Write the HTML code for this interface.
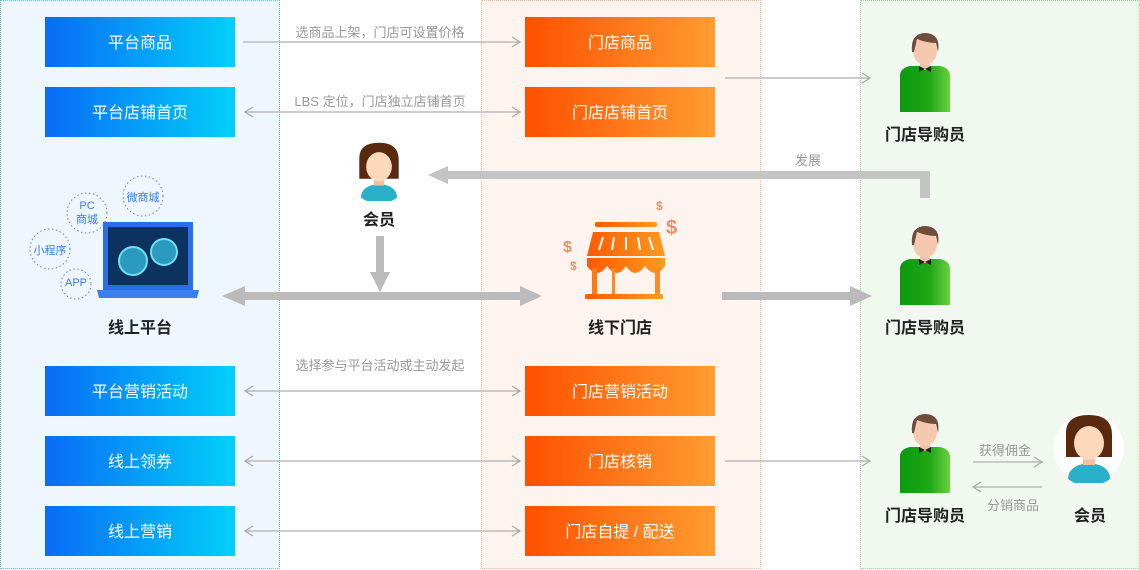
<!DOCTYPE html>
<html><head><meta charset="utf-8"><style>
body{margin:0;width:1140px;height:570px;position:relative;overflow:hidden;background:#fff;font-family:"Liberation Sans","Noto Sans CJK SC",sans-serif}
.p{position:absolute;top:0;height:569px;box-sizing:border-box}
.b{position:absolute;width:190px;height:50px;color:#fff;font-size:16px;line-height:53px;text-align:center}
.bl{left:45px;background:linear-gradient(90deg,#0a6cf7,#00d0f8)}
.or{left:525px;background:linear-gradient(90deg,#ff5000,#ff9d30)}
.t{position:absolute;font-size:16px;font-weight:bold;color:#222;text-align:center;width:140px}
.g{position:absolute;font-size:13px;color:#999;text-align:center}
</style></head><body>
<div class="p" style="left:0;width:280px;background:#eef7fd;border:1px dotted #6ab8e8"></div>
<div class="p" style="left:481px;width:280px;background:#fdf3ef;border:1px dotted #f4b8a0"></div>
<div class="p" style="left:860px;width:280px;background:#f1f8f0;border:1px dotted #8d8"></div>

<div class="b bl" style="top:17px">平台商品</div>
<div class="b bl" style="top:87px">平台店铺首页</div>
<div class="b bl" style="top:366px">平台营销活动</div>
<div class="b bl" style="top:436px">线上领券</div>
<div class="b bl" style="top:506px">线上营销</div>
<div class="b or" style="top:17px">门店商品</div>
<div class="b or" style="top:87px">门店店铺首页</div>
<div class="b or" style="top:366px">门店营销活动</div>
<div class="b or" style="top:436px">门店核销</div>
<div class="b or" style="top:506px">门店自提 / 配送</div>

<svg width="1140" height="570" style="position:absolute;left:0;top:0">
<defs>
<marker id="a" markerWidth="10" markerHeight="12" refX="9" refY="6" orient="auto-start-reverse" markerUnits="userSpaceOnUse"><path d="M1,1 L9,6 L1,11" fill="none" stroke="#aaa" stroke-width="1.3"/></marker>
<linearGradient id="sh" x1="0" x2="1"><stop offset="0" stop-color="#0a9a10"/><stop offset="0.6" stop-color="#20a818"/><stop offset="1" stop-color="#6ad040"/></linearGradient>
<linearGradient id="st" x1="0" x2="1"><stop offset="0" stop-color="#ff5a00"/><stop offset="1" stop-color="#ff9a20"/></linearGradient>
<symbol id="man" viewBox="0 0 60 80">
<path d="M5,44 Q5,36 15,34 L45,34 Q55,36 55,44 L55,80 L5,80Z" fill="url(#sh)"/>
<rect x="25" y="28" width="10" height="10" fill="#f0c0a8"/>
<ellipse cx="30" cy="19" rx="12" ry="14" fill="#f5c8b0"/>
<path d="M17,20 Q15,1 31,1 Q46,2 43,20 L41,11 Q32,11 22,7 L19,20Z" fill="#6e4e3a"/>
<path d="M24,34 L30,37 L36,34 L36,40 L30,37 L24,40Z" fill="#222"/>
</symbol>
<symbol id="wom" viewBox="0 0 70 70">
<circle cx="35" cy="35" r="35" fill="#fff"/>
<path d="M12,20 Q12,2 35,2 Q58,2 58,22 L58,44 L12,44Z" fill="#5a2a10"/>
<path d="M14,66 Q14,52 35,50 Q56,52 56,66 A35,35 0 0 1 14,66Z" fill="#2ab0c8"/>
<rect x="29" y="40" width="12" height="12" fill="#f0c0a0"/>
<ellipse cx="35" cy="30" rx="15" ry="17" fill="#fcd9bc"/>
<path d="M20,24 Q26,10 44,12 Q50,16 52,26 Q50,14 35,10 Q22,12 20,24Z" fill="#5a2a10"/>
</symbol>
</defs>
<g stroke="#bbb" stroke-width="1.5" fill="none">
<line x1="243" y1="42" x2="520" y2="42" marker-end="url(#a)"/>
<line x1="245" y1="112" x2="520" y2="112" marker-end="url(#a)" marker-start="url(#a)"/>
<line x1="725" y1="78" x2="870" y2="78" marker-end="url(#a)"/>
<line x1="245" y1="391" x2="520" y2="391" marker-end="url(#a)" marker-start="url(#a)"/>
<line x1="245" y1="461" x2="520" y2="461" marker-end="url(#a)" marker-start="url(#a)"/>
<line x1="245" y1="531" x2="520" y2="531" marker-end="url(#a)" marker-start="url(#a)"/>
<line x1="725" y1="461" x2="870" y2="461" marker-end="url(#a)"/>
<line x1="973" y1="462" x2="1042" y2="462" marker-end="url(#a)"/>
<line x1="1042" y1="487" x2="973" y2="487" marker-end="url(#a)"/>
</g>
<path d="M930,198 L930,171 L448,171 L448,166 L428,175 L448,184 L448,179 L920,179 L920,198Z" fill="#c4c4c4"/>
<path d="M376,236 L384,236 L384,272 L390,272 L380,292 L370,272 L376,272Z" fill="#bbb"/>
<path d="M222,296 L245,286 L245,292 L520,292 L520,286 L542,296 L520,306 L520,300 L245,300 L245,306Z" fill="#bbb"/>
<path d="M722,292 L850,292 L850,286 L872,296 L850,306 L850,300 L722,300Z" fill="#bbb"/>
<use href="#man" x="895" y="32" width="60" height="80"/>
<use href="#man" x="895" y="225" width="60" height="80"/>
<use href="#man" x="895" y="413" width="60" height="80"/>
<circle cx="379" cy="171" r="30" fill="#e3e3e3"/>
<use href="#wom" x="349" y="141" width="60" height="60"/>
<use href="#wom" x="1054" y="413" width="70" height="70"/>
<rect x="103" y="222" width="90" height="68" fill="#2a6fe8"/>
<rect x="108" y="227" width="80" height="58" fill="#0d3260"/>
<circle cx="133" cy="261" r="14" fill="#2a9bbf" stroke="#6de0f0" stroke-width="2"/>
<circle cx="164" cy="252" r="13" fill="#2a9bbf" stroke="#6de0f0" stroke-width="2"/>
<path d="M97,290 L199,290 L197,298 L99,298Z" fill="#3a80f0"/>
<g fill="none" stroke="#6a7ad0" stroke-dasharray="1.5,2.5" stroke-width="1">
<circle cx="87" cy="213" r="20"/><circle cx="143" cy="196" r="20"/><circle cx="50" cy="249" r="20"/><circle cx="76" cy="284" r="15"/>
</g>
<rect x="595" y="222" width="62" height="5" rx="2" fill="url(#st)"/>
<path d="M593,232 L659,232 L665,256 L587,256Z" fill="url(#st)"/>
<g stroke="#fff" stroke-width="2"><line x1="603" y1="237" x2="599" y2="250"/><line x1="614" y1="237" x2="612" y2="250"/><line x1="626" y1="237" x2="626" y2="250"/><line x1="638" y1="237" x2="640" y2="250"/><line x1="649" y1="237" x2="653" y2="250"/></g>
<path d="M587,258 L665,258 L665,266 Q655,280 645,266 Q635,280 626,266 Q617,280 607,266 Q597,280 587,266Z" fill="url(#st)"/>
<rect x="592" y="268" width="5" height="28" fill="#ff7a10"/><rect x="655" y="268" width="5" height="28" fill="#ff8a20"/>
<rect x="612" y="268" width="3" height="28" fill="#ff8a20"/>
<rect x="585" y="294" width="78" height="5" rx="2" fill="url(#st)"/>
<g fill="#e8906a" font-size="16" font-weight="bold" font-family="Liberation Sans"><text x="563" y="252">$</text><text x="570" y="270" font-size="12">$</text><text x="666" y="234" font-size="20">$</text><text x="656" y="210" font-size="12">$</text></g>
</svg>
<div class="g" style="left:270px;top:22px;width:220px">选商品上架，门店可设置价格</div>
<div class="g" style="left:270px;top:91px;width:220px">LBS 定位，门店独立店铺首页</div>
<div class="g" style="left:260px;top:355px;width:240px">选择参与平台活动或主动发起</div>
<div class="g" style="left:780px;top:150px;width:56px">发展</div>
<div class="g" style="left:970px;top:440px;width:70px">获得佣金</div>
<div class="g" style="left:978px;top:495px;width:70px">分销商品</div>
<div style="position:absolute;left:67px;top:199px;width:40px;font-size:11px;color:#3a7ae0;text-align:center;line-height:14px">PC<br>商城</div>
<div style="position:absolute;left:120px;top:189px;width:46px;font-size:11px;color:#3a7ae0;text-align:center">微商城</div>
<div style="position:absolute;left:27px;top:242px;width:46px;font-size:11px;color:#3a7ae0;text-align:center">小程序</div>
<div style="position:absolute;left:56px;top:277px;width:40px;font-size:11px;color:#3a7ae0;text-align:center">APP</div>
<div class="t" style="left:309px;top:206px">会员</div>
<div class="t" style="left:70px;top:314px">线上平台</div>
<div class="t" style="left:550px;top:314px">线下门店</div>
<div class="t" style="left:855px;top:121px">门店导购员</div>
<div class="t" style="left:855px;top:314px">门店导购员</div>
<div class="t" style="left:855px;top:502px">门店导购员</div>
<div class="t" style="left:1020px;top:502px">会员</div>
</body></html>
